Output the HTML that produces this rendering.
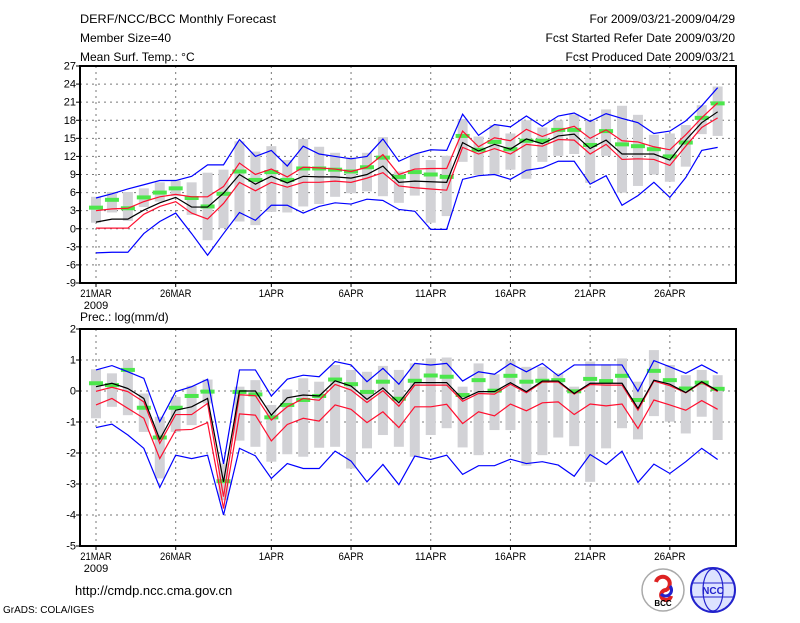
<!DOCTYPE html>
<html><head><meta charset="utf-8"><style>
body{margin:0;background:#fff;}
svg text{font-family:"Liberation Sans",sans-serif;}
</style></head><body>
<svg id="c" width="800" height="618" xmlns="http://www.w3.org/2000/svg">
<rect width="800" height="618" fill="#fff"/>
<g font-size="12" fill="#000">
<text x="80" y="23" textLength="196" lengthAdjust="spacingAndGlyphs">DERF/NCC/BCC Monthly Forecast</text>
<text x="80" y="42">Member Size=40</text>
<text x="80" y="61">Mean Surf. Temp.: °C</text>
<text x="735" y="23" text-anchor="end">For 2009/03/21-2009/04/29</text>
<text x="735" y="42" text-anchor="end">Fcst Started Refer Date 2009/03/20</text>
<text x="735" y="61" text-anchor="end">Fcst Produced Date 2009/03/21</text>
<text x="80" y="321">Prec.: log(mm/d)</text>
<text x="75" y="595" font-size="13">http://cmdp.ncc.cma.gov.cn</text>
<text x="3" y="613" font-size="10">GrADS: COLA/IGES</text>
</g>
<g>
<circle cx="663" cy="590" r="21" fill="#fff" stroke="#aaa" stroke-width="1.5"/>
<path d="M656 582 a7 7 0 1 1 10 8 a5 5 0 1 0 5 6" fill="none" stroke="#d22" stroke-width="4"/>
<path d="M670 586 a6 6 0 1 1 -9 8" fill="none" stroke="#22c" stroke-width="3"/>
<text x="663" y="606" font-size="8" text-anchor="middle" font-weight="bold">BCC</text>
</g>
<g>
<circle cx="713" cy="590" r="22" fill="#dde3ff" stroke="#22c" stroke-width="2"/>
<ellipse cx="713" cy="590" rx="10" ry="21" fill="none" stroke="#22c" stroke-width="1.2"/>
<line x1="692" y1="583" x2="734" y2="583" stroke="#22c"/><line x1="692" y1="597" x2="734" y2="597" stroke="#22c"/>
<text x="713" y="594" font-size="10" text-anchor="middle" fill="#22c" font-weight="bold">NCC</text>
</g>
</svg>
<script>
// x axis: day index 0..39 (21MAR..29APR)
const dayTicks=[0,5,11,16,21,26,31,36];
const dayTickLabels=["21MAR","26MAR","1APR","6APR","11APR","16APR","21APR","26APR"];
// ---- temperature panel ----
const tTicks=[-9,-6,-3,0,3,6,9,12,15,18,21,24,27];
const tBlueHi=[5.1,5.8,6.6,7.3,8.0,8.0,8.7,10.6,10.6,14.8,12.0,13.0,10.4,13.7,12.4,12.0,11.6,12.0,14.9,11.2,12.4,13.1,13.0,19.0,15.5,17.3,16.9,18.7,17.0,18.7,19.2,17.8,19.1,18.3,17.6,15.8,16.2,17.9,20.4,23.4];
const tRedHi=[3.0,3.3,3.4,4.5,5.3,5.7,5.3,5.3,7.0,10.9,9.0,9.9,8.6,10.2,10.1,9.9,9.5,10.2,12.3,9.0,9.9,10.0,10.0,16.2,13.6,15.1,14.6,16.5,15.3,16.3,17.0,15.0,16.4,14.6,14.4,13.6,13.1,15.6,18.4,20.9];
const tMean=[1.1,1.6,1.6,3.1,4.3,5.2,3.6,3.6,5.9,9.0,7.4,8.7,7.6,8.7,8.6,8.6,8.4,9.0,10.4,7.7,7.9,7.8,7.7,14.3,12.9,14.0,13.2,14.9,14.1,15.4,15.7,13.3,14.7,12.4,12.4,12.4,11.4,14.7,17.6,19.4];
const tRedLo=[0.1,0.1,0.1,2.4,3.7,4.5,2.6,1.6,4.2,7.7,6.3,7.7,6.9,7.7,7.7,7.9,7.7,8.4,9.3,7.1,6.8,6.6,6.4,13.5,12.4,13.3,12.4,14.0,13.7,14.8,14.7,12.4,14.0,11.5,11.6,11.5,10.5,13.7,16.8,18.4];
const tBlueLo=[-4.0,-3.9,-3.9,-0.8,1.2,2.6,-0.8,-4.4,-0.8,2.7,1.4,3.9,3.9,2.6,3.7,4.3,4.1,4.9,4.7,3.2,2.9,-0.1,-0.1,8.2,8.8,9.0,8.2,9.7,10.1,11.2,11.2,7.4,8.8,3.9,5.5,7.7,5.2,8.5,13.0,13.5];
const tGreen=[3.5,4.8,3.4,5.2,6.0,6.7,5.1,3.7,5.8,9.5,8.1,9.4,8.1,10.0,10.0,9.8,9.5,10.2,11.8,8.6,9.4,9.0,8.6,15.4,13.1,14.4,13.2,14.6,14.6,16.4,16.4,13.9,16.2,14.0,13.7,13.2,12.0,14.3,18.4,20.8];
const tBoxTop=[5.3,6.1,6.1,6.7,7.7,8.0,7.7,9.3,9.8,14.5,12.8,13.7,11.4,14.9,13.6,12.6,11.8,12.6,15.2,9.5,12.4,11.4,12.1,18.2,15.3,17.2,15.8,18.0,16.8,18.0,19.0,17.9,19.8,20.4,18.9,15.6,15.8,17.2,20.5,23.6];
const tBoxBot=[1.0,2.7,1.3,3.6,4.5,5.4,2.3,-1.9,0.1,1.2,0.6,2.8,2.7,3.7,4.1,5.3,5.9,6.2,5.4,4.3,5.5,1.0,2.1,11.1,8.9,9.0,9.8,8.3,11.1,12.1,12.4,7.6,12.1,6.0,7.1,9.0,7.8,10.3,15.7,15.4];
// ---- precipitation panel ----
const pTicks=[-5,-4,-3,-2,-1,0,1,2];
const pBlueHi=[0.68,0.82,0.62,0.41,-0.99,-0.02,0.14,0.38,-2.35,0.68,0.68,-0.16,0.38,0.51,0.46,0.95,0.84,0.3,0.73,0.22,0.89,0.84,0.89,0.32,0.62,0.54,0.89,0.62,0.89,0.49,0.84,0.84,0.84,0.84,-0.01,0.98,0.78,0.57,0.84,0.57];
const pRedHi=[-0.01,0.12,-0.02,-0.35,-1.69,-0.76,-0.76,-0.4,-3.41,-0.12,-0.15,-0.94,-0.51,-0.24,-0.3,0.21,0.03,-0.37,0.01,-0.49,0.19,0.19,0.19,-0.33,-0.08,-0.1,0.22,-0.06,0.29,0.29,-0.1,0.21,0.19,0.19,-0.62,0.32,0.17,-0.06,0.27,-0.02];
const pMean=[0.14,0.25,0.08,-0.24,-1.56,-0.62,-0.51,-0.24,-2.93,0.0,0.0,-0.78,-0.22,-0.13,-0.16,0.33,0.16,-0.27,0.1,-0.38,0.27,0.27,0.27,-0.26,-0.02,-0.02,0.27,-0.02,0.32,0.32,-0.08,0.25,0.25,0.25,-0.56,0.35,0.22,-0.05,0.3,0.01];
const pRedLo=[-0.45,-0.24,-0.56,-0.88,-2.18,-1.26,-1.24,-1.02,-3.79,-0.74,-0.78,-1.61,-1.08,-0.88,-0.97,-0.45,-0.59,-1.02,-0.67,-1.18,-0.51,-0.51,-0.43,-1.05,-0.67,-0.8,-0.42,-0.64,-0.38,-0.35,-0.76,-0.42,-0.48,-0.42,-1.21,-0.29,-0.45,-0.62,-0.31,-0.59];
const pBlueLo=[-1.18,-1.07,-1.42,-1.85,-3.11,-2.07,-2.18,-2.07,-4.0,-1.85,-2.09,-2.82,-2.34,-2.5,-2.5,-1.94,-2.26,-2.93,-2.37,-3.02,-2.1,-2.21,-2.07,-2.69,-2.41,-2.41,-2.2,-2.34,-2.28,-2.39,-2.75,-2.05,-2.37,-1.94,-2.95,-2.36,-2.66,-2.28,-1.85,-2.21];
const pGreen=[0.25,0.19,0.68,-0.54,-1.5,-0.54,-0.16,-0.02,-2.91,-0.03,-0.11,-0.85,-0.45,-0.29,-0.16,0.37,0.22,-0.03,0.3,-0.25,0.33,0.5,0.46,-0.13,0.35,0.01,0.49,0.3,0.33,0.35,-0.01,0.39,0.32,0.49,-0.29,0.65,0.35,0.08,0.27,0.07];
const pBoxTop=[0.7,0.57,1.0,-0.08,-0.83,-0.19,0.17,0.37,-2.34,0.14,0.35,-0.45,0.05,0.41,0.3,0.84,0.68,0.62,0.81,0.68,0.89,1.05,1.08,0.14,0.89,0.54,0.98,0.78,0.78,0.57,0.14,0.95,0.86,1.05,0.3,1.32,0.84,0.51,0.68,0.51];
const pBoxBot=[-0.88,-0.51,-0.78,-1.32,-2.82,-1.32,-1.1,-0.4,-3.52,-1.6,-1.8,-2.28,-2.04,-2.12,-1.83,-1.8,-2.5,-1.85,-1.42,-1.8,-2.12,-1.42,-1.2,-1.82,-2.07,-1.26,-1.26,-2.41,-2.07,-1.5,-1.78,-2.93,-1.85,-1.2,-1.56,-0.81,-0.99,-1.37,-0.83,-1.58];

const NS="http://www.w3.org/2000/svg";
const svg=document.getElementById('c');
const X0=80,X1=736;
const xScale=d=>96+15.94*d;
function mk(tag,attrs,parent){const e=document.createElementNS(NS,tag);for(const k in attrs)e.setAttribute(k,attrs[k]);(parent||svg).appendChild(e);return e;}

function panel(prefix,top,bottom,vmin,vmax,ticks,series){
  const y=v=>bottom-(v-vmin)/(vmax-vmin)*(bottom-top);
  const g=mk('g',{});
  
  
  ticks.forEach(t=>{ if(t>vmin&&t<vmax){const l=mk('line',{x1:X0,x2:X1,y1:y(t),y2:y(t),stroke:'#777','stroke-dasharray':'2,4','stroke-width':1},g);
    
    }
    const tx=mk('text',{x:76,y:y(t)+3.5,'text-anchor':'end','font-size':11},g);tx.textContent=t;
    
    
    mk('line',{x1:X0-4,x2:X0,y1:y(t),y2:y(t),stroke:'#000'},g);
  });
  dayTicks.forEach((d,i)=>{const l=mk('line',{x1:xScale(d),x2:xScale(d),y1:top,y2:bottom,stroke:'#777','stroke-dasharray':'2,4'},g);
    
    
    mk('line',{x1:xScale(d),x2:xScale(d),y1:bottom,y2:bottom+4,stroke:'#000'},g);
    const tx=mk('text',{x:xScale(d),y:bottom+14,'text-anchor':'middle','font-size':11,textLength:dayTickLabels[i].length*6.3,lengthAdjust:'spacingAndGlyphs'},g);tx.textContent=dayTickLabels[i];
    
    
  });
  const yr=mk('text',{x:xScale(0),y:bottom+26,'text-anchor':'middle','font-size':11},g);yr.textContent='2009';
  
  
  series.boxTop.forEach((v,d)=>{const r=mk('rect',{x:xScale(d)-5,y:y(v),width:10,height:Math.max(1,y(series.boxBot[d])-y(v)),fill:'#d2d2d6'},g);
    
    });
  series.green.forEach((v,d)=>{const r=mk('rect',{x:xScale(d)-7,y:y(v)-2,width:14,height:4,fill:'#4ce64c'},g);
    
    });
  const lines=[['blue-upper',series.blueHi,'#0000ff'],['blue-lower',series.blueLo,'#0000ff'],['red-upper',series.redHi,'#ff1030'],['red-lower',series.redLo,'#ff1030'],['ensemble-mean',series.mean,'#000']];
  lines.forEach(([n,arr,c])=>{const p=mk('polyline',{points:arr.map((v,d)=>xScale(d)+','+y(v)).join(' '),fill:'none',stroke:c,'stroke-width':1.2},g);
    
    });
  const f=mk('rect',{x:X0,y:top,width:X1-X0,height:bottom-top,fill:'none',stroke:'#000','stroke-width':2},g);
  
  
}
panel('temp',66,283,-9,27,tTicks,{blueHi:tBlueHi,redHi:tRedHi,mean:tMean,redLo:tRedLo,blueLo:tBlueLo,green:tGreen,boxTop:tBoxTop,boxBot:tBoxBot});
panel('prec',329,546,-5,2,pTicks,{blueHi:pBlueHi,redHi:pRedHi,mean:pMean,redLo:pRedLo,blueLo:pBlueLo,green:pGreen,boxTop:pBoxTop,boxBot:pBoxBot});
</script>
</body></html>
